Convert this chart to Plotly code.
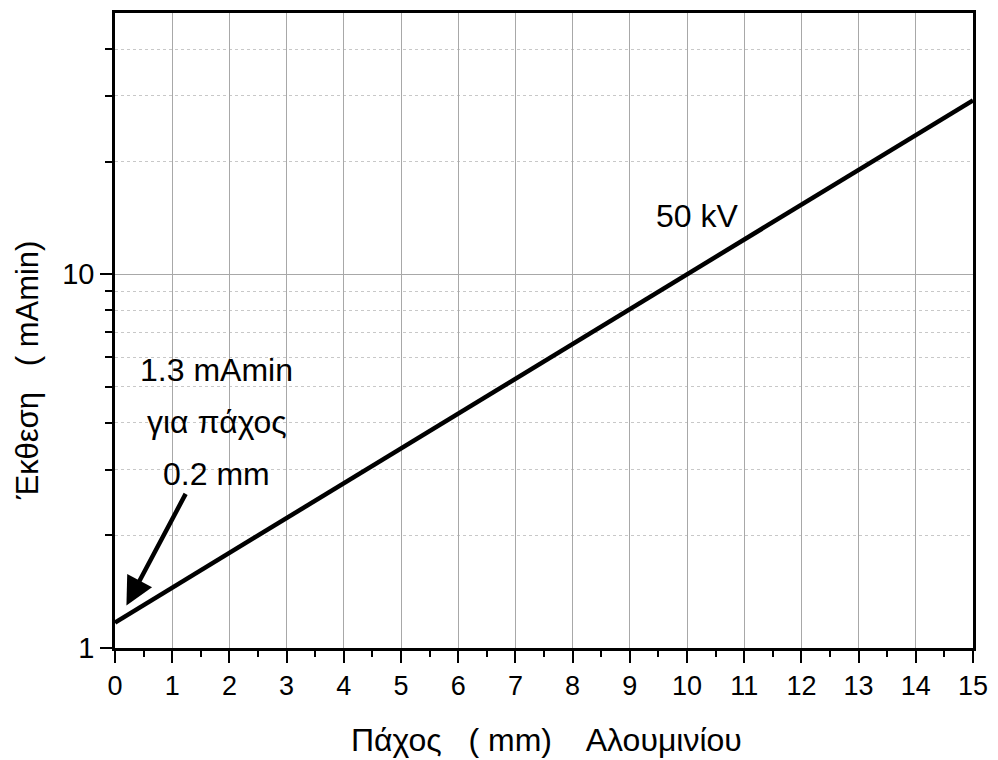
import plotly.graph_objects as go

# Exposure vs. aluminium thickness at 50 kV (straight line on log scale)
thickness_mm = [0, 5, 10, 15]
exposure_mAmin = [1.17, 3.42, 10.0, 29.2]

# Annotated reference point
note_thickness = 0.2
note_exposure = 1.3

x_major = list(range(0, 16))
x_minor = [i + 0.5 for i in range(0, 15)]
y_major = [1, 10]
y_major_text = ["1", "10"]
y_minor = [2, 3, 4, 5, 6, 7, 8, 9, 20, 30, 40]

FONT = "Arial, Liberation Sans, sans-serif"

fig = go.Figure()
fig.add_trace(go.Scatter(
    x=thickness_mm, y=exposure_mAmin, mode="lines",
    line=dict(color="black", width=4.5), showlegend=False,
))

fig.update_layout(
    width=998, height=760,
    margin=dict(l=115, r=20, t=10, b=112),
    paper_bgcolor="white", plot_bgcolor="white",
    font=dict(family=FONT, color="black"),
)

fig.update_xaxes(
    range=[0, 15], tickmode="array", tickvals=x_major,
    ticks="outside", ticklen=12, tickwidth=2, tickcolor="black",
    tickfont=dict(size=27, family=FONT, color="black"),
    showline=True, linecolor="black", linewidth=2.5, mirror=True,
    showgrid=True, gridcolor="#a8a8a8", gridwidth=1,
    zeroline=False,
    minor=dict(tickmode="array", tickvals=x_minor, ticks="outside",
               ticklen=6, tickwidth=2, tickcolor="black", showgrid=False),
)

fig.update_yaxes(
    type="log", range=[0, 1.69897],
    tickmode="array", tickvals=y_major, ticktext=y_major_text,
    ticks="outside", ticklen=12, tickwidth=2, tickcolor="black",
    tickfont=dict(size=29, family=FONT, color="black"),
    showline=True, linecolor="black", linewidth=2.5, mirror=True,
    showgrid=True, gridcolor="#a8a8a8", gridwidth=1,
    zeroline=False,
    minor=dict(tickmode="array", tickvals=y_minor, ticks="outside",
               ticklen=7, tickwidth=2, tickcolor="black",
               showgrid=True, gridcolor="#c8c8c8", griddash="dot", gridwidth=1),
)

# Axis titles
fig.add_annotation(
    text="Πάχος   ( mm)    Αλουμινίου", xref="paper", yref="paper",
    x=0.503, y=-0.145, xanchor="center", yanchor="middle",
    showarrow=False, font=dict(size=32, family=FONT, color="black"),
)
fig.add_annotation(
    text="Έκθεση   ( mAmin)", xref="paper", yref="paper",
    x=-0.102, y=0.437, xanchor="center", yanchor="middle", textangle=-90,
    showarrow=False, font=dict(size=31, family=FONT, color="black"),
)

# Curve label
fig.add_annotation(
    text="50 kV", x=10.17, y=1.155, yref="y", xref="x",
    showarrow=False, font=dict(size=32, family=FONT, color="black"),
)

# Note text with arrow to the reference point
note_lines = ["1.3 mAmin", "για πάχος", "0.2 mm"]
note_y = [0.745, 0.605, 0.465]
for txt, yy in zip(note_lines, note_y):
    fig.add_annotation(
        text=txt, x=1.78, y=yy, xref="x", yref="y",
        showarrow=False, font=dict(size=32, family=FONT, color="black"),
    )
fig.add_annotation(
    x=note_thickness, y=0.1139, xref="x", yref="y", text="",
    showarrow=True, arrowhead=2, arrowsize=1.25, arrowwidth=4.5,
    arrowcolor="black", ax=60, ay=-113,
)

fig.write_html("out.html")
